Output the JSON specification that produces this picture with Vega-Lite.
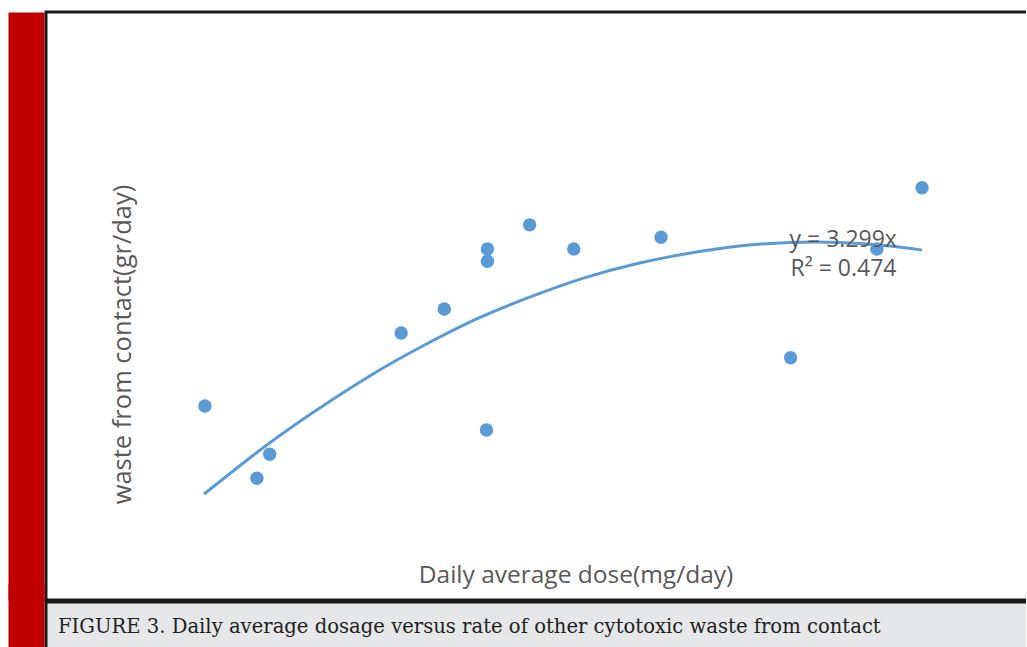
{
  "$schema": "https://vega.github.io/schema/vega-lite/v6.json",
  "padding": {"left": 24, "top": 10, "right": -8, "bottom": -2},
  "autosize": {"type": "pad"},
  "background": "white",
  "spacing": -3,
  "datasets": {
    "points": [
      {"dose": 16.2, "waste": 33.0},
      {"dose": 21.5, "waste": 20.7},
      {"dose": 22.8, "waste": 24.8},
      {"dose": 36.2, "waste": 45.4},
      {"dose": 40.6, "waste": 49.5},
      {"dose": 45.0, "waste": 59.7},
      {"dose": 45.0, "waste": 57.6},
      {"dose": 44.9, "waste": 28.9},
      {"dose": 49.3, "waste": 63.8},
      {"dose": 53.8, "waste": 59.7},
      {"dose": 62.7, "waste": 61.7},
      {"dose": 75.9, "waste": 41.2},
      {"dose": 84.7, "waste": 59.7},
      {"dose": 89.3, "waste": 70.1}
    ],
    "trend": [
      {"dose": 16.1, "waste": 18.0},
      {"dose": 20.8, "waste": 24.2},
      {"dose": 25.9, "waste": 30.4},
      {"dose": 33.0, "waste": 38.1},
      {"dose": 38.4, "waste": 43.2},
      {"dose": 43.9, "waste": 47.8},
      {"dose": 49.3, "waste": 51.5},
      {"dose": 54.7, "waste": 54.7},
      {"dose": 60.2, "waste": 57.2},
      {"dose": 65.7, "waste": 59.0},
      {"dose": 70.7, "waste": 60.2},
      {"dose": 75.8, "waste": 60.8},
      {"dose": 80.9, "waste": 60.8},
      {"dose": 86.0, "waste": 60.2},
      {"dose": 89.3, "waste": 59.5}
    ],
    "labels": [
      {"label": "y = 3.299x", "dose": 75.8, "waste": 60.0},
      {"label": "R² = 0.474", "dose": 75.9, "waste": 55.1}
    ],
    "caption": [
      {"caption": "FIGURE 3. Daily average dosage versus rate of other cytotoxic waste from contact"}
    ]
  },
  "vconcat": [
    {
      "width": 986,
      "height": 588,
      "view": {"fill": "white", "stroke": "#1a1a1a", "strokeWidth": 3},
      "encoding": {
        "x": {
          "field": "dose", "type": "quantitative",
          "scale": {"domain": [0, 100.51], "nice": false, "zero": false},
          "axis": {
            "domain": false, "ticks": false, "labels": false, "grid": false,
            "title": "Daily average dose(mg/day)",
            "titleFont": "Open Sans", "titleFontSize": 24.5, "titleFontWeight": "normal",
            "titleColor": "#595959", "titleX": 529.5, "titleY": -18,
            "titleBaseline": "alphabetic", "titleAlign": "center"
          }
        },
        "y": {
          "field": "waste", "type": "quantitative",
          "scale": {"domain": [0, 100], "nice": false, "zero": false},
          "axis": {
            "domain": true, "domainColor": "#c00000", "domainWidth": 36, "offset": 20,
            "ticks": false, "labels": false, "grid": false,
            "title": "waste from contact(gr/day)",
            "titleFont": "Open Sans", "titleFontSize": 25.5, "titleFontWeight": "normal",
            "titleColor": "#595959", "titleX": 104, "titleY": 332, "titleAngle": -90,
            "titleBaseline": "alphabetic", "titleAlign": "center"
          }
        }
      },
      "layer": [
        {
          "data": {"name": "points"},
          "mark": {"type": "circle", "size": 180, "color": "#5b9bd5", "opacity": 1}
        },
        {
          "data": {"name": "trend"},
          "mark": {"type": "line", "color": "#5b9bd5", "strokeWidth": 3, "interpolate": "natural"}
        },
        {
          "data": {"name": "labels"},
          "mark": {"type": "text", "align": "left", "baseline": "alphabetic", "font": "Open Sans", "fontSize": 23, "color": "#595959"},
          "encoding": {"text": {"field": "label"}}
        }
      ]
    },
    {
      "width": 986,
      "height": 47,
      "view": {"fill": "#e6e7e8", "stroke": "#1a1a1a", "strokeWidth": 3},
      "data": {"name": "caption"},
      "mark": {"type": "text", "align": "left", "baseline": "middle", "dx": 12, "dy": 1, "font": "DejaVu Serif", "fontSize": 19.6, "color": "#231f20"},
      "encoding": {
        "text": {"field": "caption"},
        "x": {"datum": 0, "type": "quantitative", "scale": {"domain": [0, 1]}, "axis": null},
        "y": {
          "field": "caption", "type": "nominal",
          "axis": {"domain": true, "domainColor": "#c00000", "domainWidth": 36, "domainCap": "square", "offset": 20, "ticks": false, "labels": false, "grid": false, "title": null}
        }
      }
    }
  ]
}
